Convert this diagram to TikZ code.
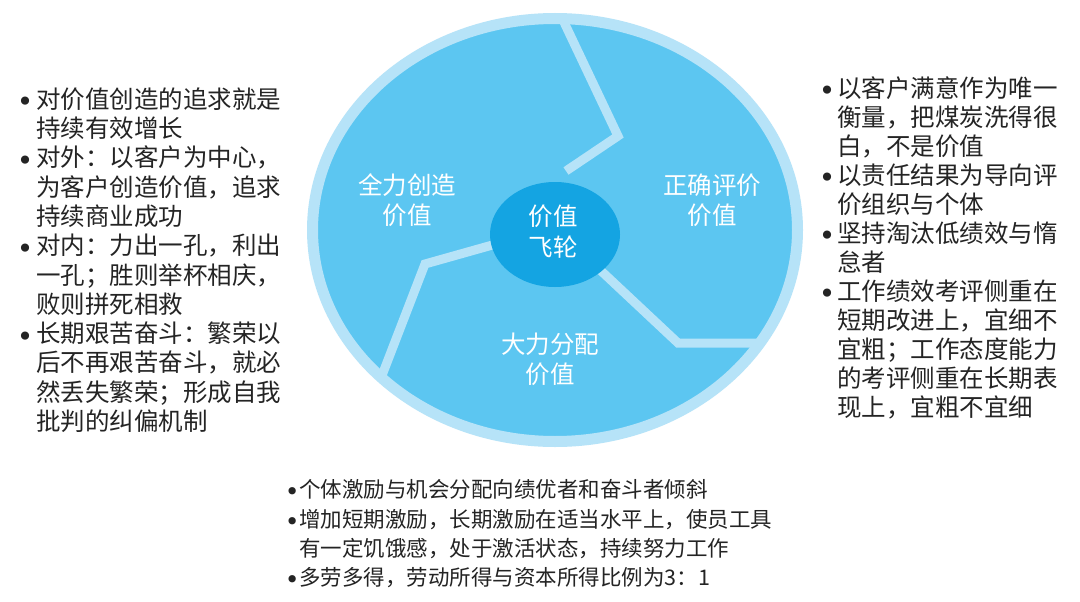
\documentclass[tikz,border=0pt]{standalone}
\usepackage{fontspec}
\usetikzlibrary{shapes.geometric}
\newfontfamily\cjk{Noto Sans CJK SC}
\newfontfamily\dejavu{DejaVu Sans}
\definecolor{piefill}{HTML}{5CC6F1}
\definecolor{ringcol}{HTML}{B6E3F8}
\definecolor{hubcol}{HTML}{14A4E2}
\definecolor{txtcol}{HTML}{242424}
\newcommand{\mybul}[3]{\llap{\makebox[0pt][c]{\raisebox{#2}{\dejavu\fontsize{#1}{#1}\selectfont •}}\hspace{#3}}}
\newcommand{\bulL}{\mybul{28pt}{-3.5pt}{11pt}}
\newcommand{\bulR}{\mybul{28pt}{-3.5pt}{10pt}}
\newcommand{\bulB}{\mybul{25pt}{-3pt}{7pt}}
\tikzset{
  sidetext/.style={anchor=west, inner sep=0pt, text=txtcol,
    font=\cjk\fontsize{24.5pt}{29pt}\selectfont, text height=21.5pt, text depth=3pt},
  bottext/.style={anchor=west, inner sep=0pt, text=txtcol,
    font=\cjk\fontsize{21.5pt}{29pt}\selectfont, text height=18.9pt, text depth=2.6pt},
  pielabel/.style={align=center, text=white, inner sep=0pt,
    font=\cjk\fontsize{24.5pt}{30pt}\selectfont},
  divider/.style={draw=ringcol, line width=9pt, line join=miter},
}
\begin{document}
\begin{tikzpicture}[x=1pt,y=-1pt]
\fill[white] (0,0) rectangle (1080,602);
\useasboundingbox (0,0) rectangle (1080,602);
% wheel
\draw[fill=piefill, draw=ringcol, line width=11pt] (555,230) ellipse [x radius=242.5pt, y radius=211.5pt];
\draw[divider] (563,20) -- (618,136) -- (566,171);
\draw[divider] (496,244) -- (425,264) -- (381,378);
\draw[divider] (598,268) -- (678,343) -- (762,343);
\node[ellipse, fill=hubcol, minimum width=130pt, minimum height=105pt, inner sep=0pt] (hub) at (555,234.5) {};
\node[pielabel] (create) at (407,200) {全力创造\\价值};
\node[pielabel] (evaluate) at (712,200) {正确评价\\价值};
\node[pielabel] (distribute) at (550,359) {大力分配\\价值};
\node[pielabel, font=\cjk\fontsize{24.5pt}{31pt}\selectfont] (flywheel) at (553,232) {价值\\飞轮};
% left text
\foreach \t [count=\i] in {{\bulL 对价值创造的追求就是}, 持续有效增长, {\bulL 对外：以客户为中心，},
  为客户创造价值，追求, 持续商业成功, {\bulL 对内：力出一孔，利出}, 一孔；胜则举杯相庆，,
  败则拼死相救, {\bulL 长期艰苦奋斗：繁荣以}, 后不再艰苦奋斗，就必, 然丢失繁荣；形成自我, 批判的纠偏机制}
  \node[sidetext] (L\i) at (36,{99+29.3*(\i-1)}) {\t};
% right text
\foreach \t [count=\i] in {{\bulR 以客户满意作为唯一}, 衡量，把煤炭洗得很, 白，不是价值,
  {\bulR 以责任结果为导向评}, 价组织与个体, {\bulR 坚持淘汰低绩效与惰}, 怠者,
  {\bulR 工作绩效考评侧重在}, 短期改进上，宜细不, 宜粗；工作态度能力, 的考评侧重在长期表, 现上，宜粗不宜细}
  \node[sidetext] (R\i) at (837,{88+29*(\i-1)}) {\t};
% bottom text
\node[bottext] (B1) at (299,489) {\bulB 个体激励与机会分配向绩优者和奋斗者倾斜};
\node[bottext] (B2) at (299,519) {\bulB 增加短期激励，长期激励在适当水平上，使员工具};
\node[bottext] (B3) at (299,548) {有一定饥饿感，处于激活状态，持续努力工作};
\node[bottext] (B4) at (299,577) {\bulB 多劳多得，劳动所得与资本所得比例为3：1};
\end{tikzpicture}
\end{document}
